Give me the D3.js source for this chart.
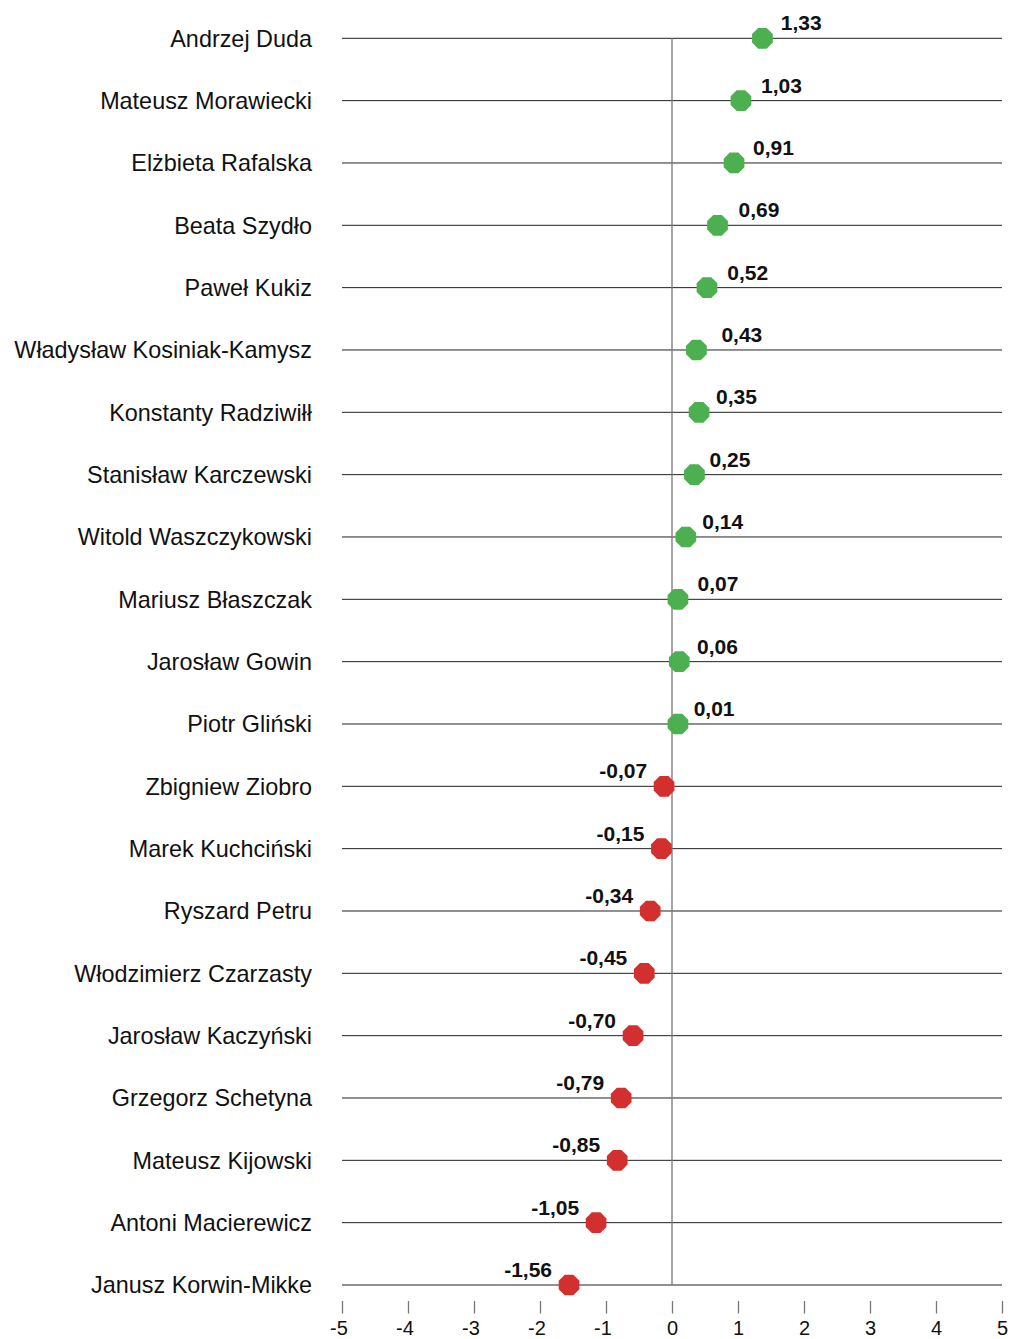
<!DOCTYPE html>
<html>
<head>
<meta charset="utf-8">
<script src="https://cdn.jsdelivr.net/npm/d3@7"></script>
<style>
  body { margin: 0; background: #fff; }
  svg { display: block; font-family: "Liberation Sans", Arial, sans-serif; }
</style>
</head>
<body>
<script>
// people, top to bottom
const NAMES = [
  "Andrzej Duda", "Mateusz Morawiecki", "Elżbieta Rafalska", "Beata Szydło",
  "Paweł Kukiz", "Władysław Kosiniak-Kamysz", "Konstanty Radziwiłł",
  "Stanisław Karczewski", "Witold Waszczykowski", "Mariusz Błaszczak",
  "Jarosław Gowin", "Piotr Gliński", "Zbigniew Ziobro", "Marek Kuchciński",
  "Ryszard Petru", "Włodzimierz Czarzasty", "Jarosław Kaczyński",
  "Grzegorz Schetyna", "Mateusz Kijowski", "Antoni Macierewicz", "Janusz Korwin-Mikke"
];
// printed values
const VALUES = [1.33, 1.03, 0.91, 0.69, 0.52, 0.43, 0.35, 0.25, 0.14, 0.07, 0.06, 0.01,
  -0.07, -0.15, -0.34, -0.45, -0.70, -0.79, -0.85, -1.05, -1.56];
// where the dots actually sit in the picture (slightly jittered)
const DOT_POS = [1.37, 1.045, 0.94, 0.69, 0.53, 0.37, 0.41, 0.34, 0.21, 0.09, 0.11, 0.09,
  -0.12, -0.16, -0.33, -0.42, -0.59, -0.77, -0.83, -1.15, -1.56];
const X_TICKS = [-5, -4, -3, -2, -1, 0, 1, 2, 3, 4, 5];

const WIDTH = 1010, HEIGHT = 1339;
const GREEN = "#4caf50", RED = "#d32f2f";
const FONT = '"Liberation Sans", Arial, sans-serif';

const data = NAMES.map((n, i) => ({ name: n, value: VALUES[i], pos: DOT_POS[i] }));

const svg = d3.select("body").append("svg")
    .attr("width", WIDTH)
    .attr("height", HEIGHT);

const x = d3.scaleLinear().domain([-5, 5]).range([342, 1002]);
const y = d3.scalePoint().domain(NAMES).range([38.3, 1285]);

// polish number style: comma decimal, plain hyphen as minus
const pl = d3.formatLocale({ decimal: ",", thousands: " ", grouping: [3], currency: ["", ""], minus: "-" });
const fmt = pl.format(".2f");

// horizontal row lines
svg.append("g").selectAll("line")
  .data(data)
  .join("line")
    .attr("x1", x(-5)).attr("x2", x(5))
    .attr("y1", d => y(d.name)).attr("y2", d => y(d.name))
    .attr("stroke", "#222")
    .attr("stroke-width", 1);

// zero line
svg.append("line")
    .attr("x1", x(0)).attr("x2", x(0))
    .attr("y1", y(NAMES[0])).attr("y2", y(NAMES[NAMES.length - 1]))
    .attr("stroke", "#777")
    .attr("stroke-width", 1.3);

// bottom axis, ticks only
const axis = svg.append("g")
    .attr("transform", "translate(0,1301)")
    .call(d3.axisBottom(x).tickValues(X_TICKS).tickSize(12.5).tickFormat(pl.format("d")));
axis.select(".domain").remove();
axis.selectAll(".tick line").attr("stroke", "#777").attr("stroke-width", 1.3);
axis.selectAll(".tick text")
    .attr("y", 33.5)
    .attr("dy", 0)
    .attr("dx", d => d < 0 ? -3.5 : 0)
    .attr("fill", "#111")
    .style("font-size", "20px")
    .style("font-family", FONT);

// name labels
svg.append("g").selectAll("text")
  .data(data)
  .join("text")
    .attr("x", 312)
    .attr("y", d => y(d.name) + 8.4)
    .attr("text-anchor", "end")
    .attr("font-size", 23.4)
    .attr("fill", "#111")
    .text(d => d.name);

// octagon markers
const R = 11.2;
const octagon = d3.range(8).map(k => {
  const a = Math.PI / 8 + k * Math.PI / 4;
  return [R * Math.cos(a), R * Math.sin(a)];
});
svg.append("g").selectAll("path")
  .data(data)
  .join("path")
    .attr("transform", d => `translate(${x(d.pos)},${y(d.name)})`)
    .attr("d", "M" + octagon.join("L") + "Z")
    .attr("fill", d => d.value >= 0 ? GREEN : RED);

// value labels
svg.append("g").selectAll("text")
  .data(data)
  .join("text")
    .attr("x", d => d.value >= 0 ? x(d.value) + 21 : x(d.pos) - 17)
    .attr("y", d => y(d.name) - 8)
    .attr("text-anchor", d => d.value >= 0 ? "start" : "end")
    .attr("font-size", 21)
    .attr("font-weight", "bold")
    .attr("fill", "#111")
    .text(d => fmt(d.value));
</script>
</body>
</html>
